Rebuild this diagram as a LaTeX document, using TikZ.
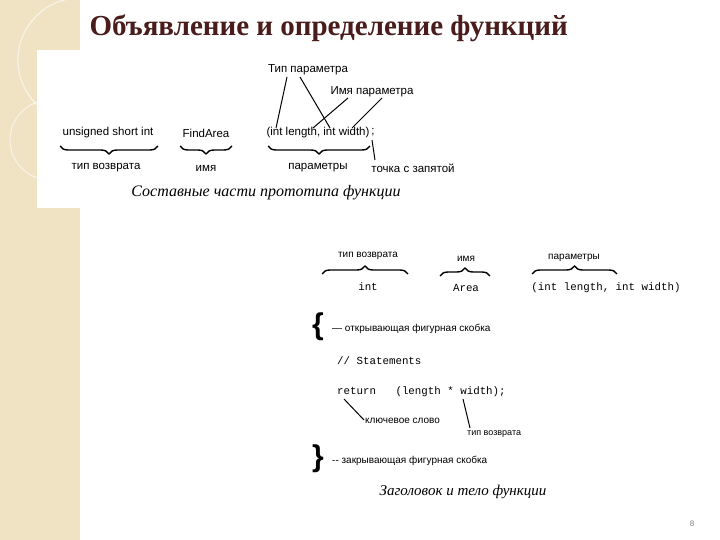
\documentclass[tikz,border=0pt]{standalone}
\usepackage{fontspec}
\setmainfont{Liberation Sans}
\newfontfamily\serf{Liberation Serif}
\newfontfamily\mono{Liberation Mono}
\usetikzlibrary{decorations.pathreplacing}
\definecolor{beige}{HTML}{EFE3C4}
\definecolor{titlec}{HTML}{4A1C1C}
\begin{document}
\begin{tikzpicture}[x=1pt,y=-1pt,
  lbl/.style={inner sep=1pt,font=\fontsize{11.5}{12}\selectfont},
  lbs/.style={inner sep=1pt,font=\fontsize{10}{11}\selectfont},
  code/.style={inner sep=1pt,font=\mono\fontsize{10.8}{12}\selectfont},
  captxt/.style={inner sep=1pt,font=\serf\itshape\fontsize{16}{17}\selectfont},
  brc/.style={decorate,decoration={brace,amplitude=8pt},line width=1.4pt},
  ln/.style={line width=1pt}]
\useasboundingbox (0,0) rectangle (720,540);
\fill[white] (0,0) rectangle (720,540);
\fill[beige] (0,0) rectangle (80,540);
\draw[white,opacity=0.6,line width=1.2pt] (80,60) circle (62);
\draw[white,opacity=0.6,line width=1pt] (50,140) circle (40);
\fill[white] (37,50) rectangle (460,208);
\node[font=\serf\bfseries\fontsize{29}{30}\selectfont,text=titlec,anchor=west] (title) at (86,28) {Объявление и определение функций};
% top diagram
\node[lbl] (tp) at (308,70) {Тип параметра};
\node[lbl] (ip) at (372,92) {Имя параметра};
\node[lbl] (ush) at (108,133) {unsigned short int};
\node[lbl] (fa) at (206,133) {FindArea};
\node[lbl] (par) at (318,133) {(int length, int width)};
\node[lbl] (semi) at (373,132) {;};
\coordinate (b1a) at (60,146); \coordinate (b1b) at (158,146);
\coordinate (b2a) at (180,146); \coordinate (b2b) at (232,146);
\coordinate (b3a) at (268,146); \coordinate (b3b) at (370,146);
\draw[brc] (b1b) -- (b1a);
\draw[brc] (b2b) -- (b2a);
\draw[brc] (b3b) -- (b3a);
\node[lbl] (tv1) at (106,168) {тип возврата};
\node[lbl] (im1) at (206,168) {имя};
\node[lbl] (pr1) at (318,168) {параметры};
\node[lbl] (tz) at (413,168) {точка с запятой};
\coordinate (pa) at (276,128); \coordinate (pb) at (330,128);
\coordinate (pc) at (313,128); \coordinate (pd) at (352,128);
\draw[ln] (287,77) -- (pa);
\draw[ln] (300,77) -- (pb);
\draw[ln] (348,98) -- (pc);
\draw[ln] (382,98) -- (pd);
\draw[ln] (372,140) -- (375,160);
\node[captxt] (cap1) at (266,193) {Составные части прототипа функции};
% bottom diagram
\node[lbs] (tv2) at (368,256) {тип возврата};
\node[lbs] (im2) at (466,259) {имя};
\node[lbs] (pr2) at (574,258) {параметры};
\coordinate (c1a) at (322,274); \coordinate (c1b) at (408,274);
\coordinate (c2a) at (440,276); \coordinate (c2b) at (490,276);
\coordinate (c3a) at (532,274); \coordinate (c3b) at (617,274);
\draw[brc] (c1a) -- (c1b);
\draw[brc] (c2a) -- (c2b);
\draw[brc] (c3a) -- (c3b);
\node[code] (int) at (368,287) {int};
\node[code] (ar) at (466,288) {Area};
\node[code] (args) at (606,288) {(int length, int width)};
\node[font=\fontsize{30}{30}\bfseries\selectfont,inner sep=0] (ob) at (318,327) {\{};
\node[lbs,anchor=west] (obt) at (331,329) {— открывающая фигурная скобка};
\node[code,anchor=west] (st) at (336,361) {// Statements};
\node[code,anchor=west] (ret) at (336,392) {return\ \ \ (length * width);};
\coordinate (k1) at (344,399); \coordinate (k2) at (364,420);
\draw[ln] (k1) -- (k2);
\node[lbs,anchor=west] (kw) at (364,421) {ключевое слово};
\coordinate (t1) at (463,399); \coordinate (t2) at (470,428);
\draw[ln] (t1) -- (t2);
\node[lbs,anchor=west,font=\fontsize{9}{10}\selectfont] (tv3) at (466,434) {тип возврата};
\node[font=\fontsize{30}{30}\bfseries\selectfont,inner sep=0] (cb) at (318,459) {\}};
\node[lbs,anchor=west] (cbt) at (331,461) {-{}- закрывающая фигурная скобка};
\node[captxt,font=\serf\itshape\fontsize{15}{16}\selectfont] (cap2) at (463,492) {Заголовок и тело функции};
\node[font=\fontsize{8}{9}\selectfont,text=gray] (pg) at (692,524) {8};
\end{tikzpicture}
\end{document}
